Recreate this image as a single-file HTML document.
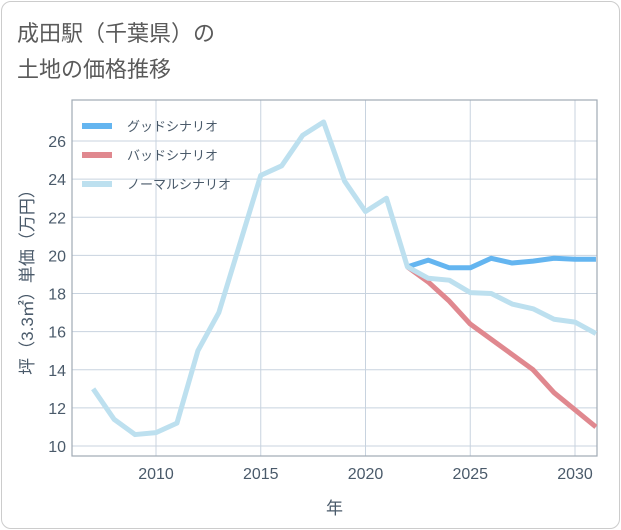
<!DOCTYPE html>
<html><head><meta charset="utf-8"><style>
body{margin:0;background:#fff;font-family:"Liberation Sans","Noto Sans CJK JP",sans-serif;}
#card{position:absolute;left:1px;top:1px;width:617px;height:526px;border:1px solid #ccc;border-radius:10px;background:#fff;}
#title{position:absolute;left:17px;top:16px;font-size:22px;line-height:36px;color:#5a5a5a;}
</style></head><body>
<div id="card"></div>
<div id="title">成田駅（千葉県）の<br>土地の価格推移</div>
<svg id="chart" width="621" height="530" style="position:absolute;left:0;top:0"></svg>
<script>
const normalYears=[2007,2008,2009,2010,2011,2012,2013,2014,2015,2016,2017,2018,2019,2020,2021,2022,2023,2024,2025,2026,2027,2028,2029,2030,2031];
const normalValues=[13.0,11.4,10.6,10.7,11.2,15.0,17.0,20.6,24.2,24.7,26.3,27.0,23.9,22.3,23.0,19.4,18.8,18.7,18.05,18.0,17.45,17.2,16.65,16.5,15.9];
const goodYears=[2022,2023,2024,2025,2026,2027,2028,2029,2030,2031];
const goodValues=[19.4,19.75,19.35,19.35,19.85,19.6,19.7,19.85,19.8,19.8];
const badYears=[2022,2023,2024,2025,2026,2027,2028,2029,2030,2031];
const badValues=[19.4,18.6,17.6,16.4,15.6,14.8,14.0,12.8,11.9,11.0];
const yTicks=[10,12,14,16,18,20,22,24,26];
const xTicks=[2010,2015,2020,2025,2030];
const legendLabels=["グッドシナリオ","バッドシナリオ","ノーマルシナリオ"];
const NS="http://www.w3.org/2000/svg";
const L=72,R=597,T=100,B=456;
const xs=y=>156+(y-2010)*20.95;
const ys=v=>446-(v-10)*19.06;
const svg=document.getElementById('chart');
function mk(t,a){const e=document.createElementNS(NS,t);for(const k in a)e.setAttribute(k,a[k]);svg.appendChild(e);return e;}
yTicks.forEach(v=>{
 const g=mk('line',{x1:L,x2:R,y1:ys(v),y2:ys(v),stroke:'#c8d3df','stroke-width':1});
 
 
 const t=mk('text',{x:L-6,y:ys(v)+6,'text-anchor':'end','font-size':16,fill:'#4a5a6a'});
 t.textContent=v;
 
 
});
xTicks.forEach(v=>{
 const g=mk('line',{x1:xs(v),x2:xs(v),y1:T,y2:B,stroke:'#c8d3df','stroke-width':1});
 
 
 const t=mk('text',{x:xs(v),y:B+23,'text-anchor':'middle','font-size':16,fill:'#4a5a6a'});
 t.textContent=v;
 
 
});
const fr=mk('rect',{x:L,y:T,width:R-L,height:B-T,fill:'none',stroke:'#a0aab5','stroke-width':1.2});


const cp=document.createElementNS(NS,'clipPath');cp.id='cp';
const cr=document.createElementNS(NS,'rect');cr.setAttribute('x',L);cr.setAttribute('y',T);cr.setAttribute('width',R-L);cr.setAttribute('height',B-T);cp.appendChild(cr);svg.appendChild(cp);
function line(xv,yv,color,name){
 const p=mk('polyline',{points:xv.map((x,i)=>xs(x)+','+ys(yv[i])).join(' '),fill:'none',stroke:color,'stroke-width':5,'stroke-linejoin':'round','clip-path':'url(#cp)'});
 
 
}
line(badYears,badValues,'#e0888f','bad-scenario-line');
line(goodYears,goodValues,'#64b5f0','good-scenario-line');
line(normalYears,normalValues,'#bde0ef','normal-scenario-line');
const colors=['#64b5f0','#e0888f','#bde0ef'];
legendLabels.forEach((s,i)=>{
 const y=126+i*29;
 const r=mk('rect',{x:82,y:y-3,width:30,height:6,fill:colors[i]});
 
 
 const t=mk('text',{x:127,y:y+5,'font-size':13,fill:'#4a5a6a'});
 t.textContent=s;
 
 
});
const xt=mk('text',{x:(L+R)/2,y:514,'text-anchor':'middle','font-size':17,fill:'#4a5a6a'});
xt.textContent='年';


const yt=mk('text',{x:0,y:0,'text-anchor':'middle','font-size':17,fill:'#4a5a6a',transform:'translate(33,'+((T+B)/2)+') rotate(-90)'});
yt.textContent='坪（3.3㎡）単価（万円）';


</script>
</body></html>
